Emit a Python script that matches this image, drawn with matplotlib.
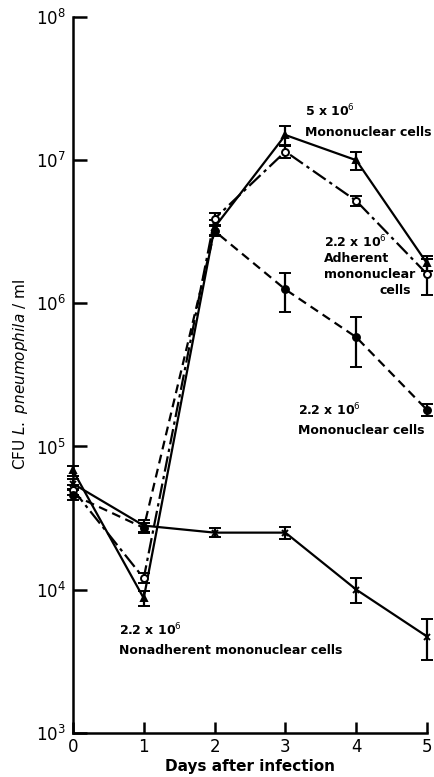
import matplotlib
matplotlib.use("Agg")
from matplotlib import pyplot as plt
import numpy as np

plt.rcParams['font.family'] = ['DejaVu Sans']

days = [0, 1, 2, 3, 4, 5]

# CFU / ml, with fractional error bars
mono5 = [6.8e4, 8.7e3, 3.4e6, 1.5e7, 1.0e7, 1.9e6]
mono5_err = [0.08, 0.12, 0.12, 0.15, 0.15, 0.12]

adherent = [5.0e4, 1.2e4, 3.9e6, 1.15e7, 5.2e6, 1.6e6]
adherent_err = [0.08, 0.08, 0.1, 0.1, 0.08, 0.28]

mono22 = [4.6e4, 2.7e4, 3.2e6, 1.25e6, 5.8e5, 1.8e5]
mono22_err = [0.08, 0.08, 0.08, 0.3, 0.38, 0.1]

nonadherent = [5.5e4, 2.8e4, 2.5e4, 2.5e4, 1.0e4, 4.7e3]
nonadherent_err = [0.08, 0.1, 0.07, 0.1, 0.2, 0.32]

yticks = [1e3, 1e4, 1e5, 1e6, 1e7, 1e8]
ytick_labels = ["$10^3$", "$10^4$", "$10^5$", "$10^6$", "$10^7$", "$10^8$"]

fig = plt.figure(figsize=(4.34, 7.77), dpi=100)
ax = fig.add_axes([0.168, 0.057, 0.816, 0.921])


def series(vals, errs, ls, marker, mfc):
    v = np.array(vals)
    e = v * np.array(errs)
    ax.errorbar(days, v, yerr=e, color="black", ls=ls, lw=1.6, marker=marker,
                ms=5, mfc=mfc, mec="black", mew=1.4, capsize=4.5, capthick=1.8,
                elinewidth=1.6, clip_on=False, zorder=3)


series(mono5, mono5_err, "-", "^", "black")
series(adherent, adherent_err, (0, (7, 2, 1.5, 2)), "o", "white")
series(mono22, mono22_err, (0, (4, 2.5)), "o", "black")
series(nonadherent, nonadherent_err, "-", "x", "black")

ax.set_yscale("log")
ax.set_ylim(1e3, 1e8)
ax.set_xlim(0, 5)
ax.set_yticks(yticks)
ax.set_yticklabels(ytick_labels, fontsize=12)
ax.yaxis.set_minor_locator(matplotlib.ticker.NullLocator())
ax.set_xticks(days)
ax.set_xticklabels([str(d) for d in days], fontsize=12)

for s in ["top", "right"]:
    ax.spines[s].set_visible(False)
for s in ["left", "bottom"]:
    ax.spines[s].set_linewidth(1.8)
ax.tick_params(axis="y", direction="in", length=10, width=1.8, pad=5)
ax.tick_params(axis="x", direction="in", length=8, width=1.8, pad=4)

ax.set_xlabel("Days after infection", fontsize=11, fontweight="bold", labelpad=2)
ax.set_ylabel(r"CFU $\it{L.\ pneumophila}$ / ml", fontsize=11, labelpad=4)

tk = dict(fontsize=9, fontweight="bold", ha="left", va="center")
ax.text(3.27, 2.2e7, r"5 x 10$^6$", **tk)
ax.text(3.27, 1.55e7, "Mononuclear cells", **tk)
ax.text(3.55, 2.7e6, r"2.2 x 10$^6$", **tk)
ax.text(3.55, 2.05e6, "Adherent", **tk)
ax.text(3.55, 1.6e6, "mononuclear", **tk)
ax.text(4.78, 1.23e6, "cells", fontsize=9, fontweight="bold", ha="right", va="center")
ax.text(3.18, 1.8e5, r"2.2 x 10$^6$", **tk)
ax.text(3.18, 1.3e5, "Mononuclear cells", **tk)
ax.text(0.65, 5.2e3, r"2.2 x 10$^6$", **tk)
ax.text(0.65, 3.75e3, "Nonadherent mononuclear cells", **tk)

fig.savefig("out.png", dpi=100)
